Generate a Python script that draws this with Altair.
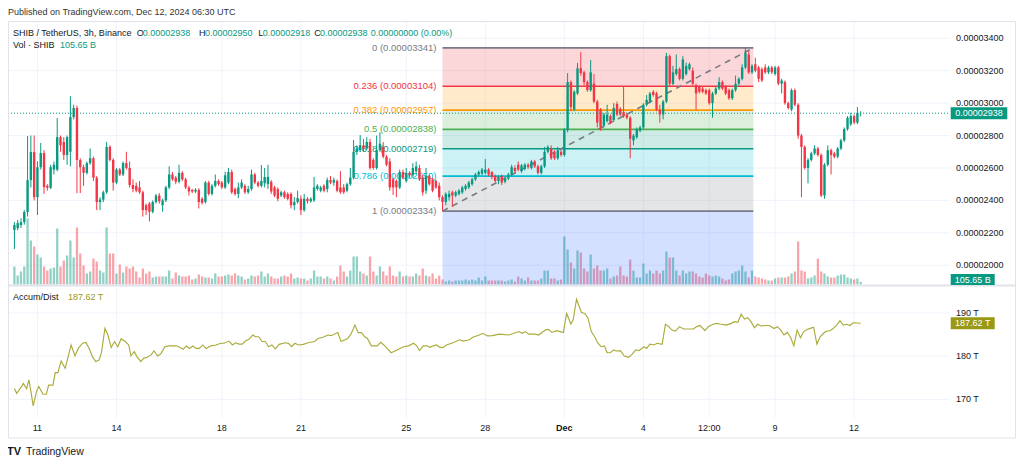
import altair as alt
import pandas as pd

# ---------------- data (prices in 1e-8 USDT) ----------------
opens = [2217,2229,2248,2266,2328,2525,2698,2420,2605,2692,
 2490,2478,2590,2590,2790,2760,2680,2700,2914,2970,
 2649,2605,2570,2630,2660,2540,2390,2405,2450,2730,
 2650,2510,2590,2560,2630,2600,2495,2490,2480,2450,
 2370,2380,2330,2390,2430,2370,2400,2480,2560,2540,
 2515,2570,2530,2480,2465,2455,2465,2410,2390,2510,
 2440,2490,2520,2510,2480,2510,2575,2470,2440,2480,
 2490,2450,2470,2560,2510,2490,2505,2500,2515,2480,
 2470,2430,2450,2440,2440,2370,2390,2410,2340,2410,
 2395,2400,2470,2460,2490,2470,2525,2510,2520,2480,
 2480,2460,2500,2540,2700,2710,2740,2720,2760,2650,
 2600,2710,2730,2670,2640,2530,2520,2480,2575,2520,
 2570,2555,2580,2600,2540,2460,2550,2530,2520,2490,
 2420,2390,2420,2450,2430,2440,2450,2470,2480,2500,
 2530,2560,2565,2570,2590,2575,2550,2520,2550,2515,
 2535,2560,2600,2620,2580,2595,2620,2600,2640,2610,
 2570,2610,2700,2720,2700,2660,2700,2680,2835,3130,
 2960,3060,3215,3190,3130,3080,3120,3010,2960,2860,
 2890,2920,2895,2995,2965,2945,2930,2910,2770,2790,
 2830,2850,2990,3010,3070,3060,2960,2930,3010,3290,
 3120,3180,3210,3150,3180,3210,3200,3110,3100,3090,
 3080,3080,3000,3060,3090,3130,3100,3080,3030,3080,
 3120,3150,3220,3300,3190,3240,3220,3210,3220,3190,
 3220,3180,3220,3120,3130,3000,2960,3080,2990,2800,
 2730,2600,2650,2690,2720,2680,2430,2620,2710,2690,
 2670,2720,2770,2840,2870,2920,2880,2938]
highs = [2266,2280,2290,2340,2797,2800,2800,2640,2754,2710,
 2500,2620,2640,2908,2800,2790,2800,3043,2990,2985,
 2660,2620,2640,2720,2670,2550,2420,2460,2760,2740,
 2660,2600,2600,2640,2700,2640,2530,2510,2520,2460,
 2380,2390,2400,2440,2445,2410,2490,2610,2575,2550,
 2620,2580,2540,2490,2470,2475,2475,2420,2520,2520,
 2500,2560,2530,2520,2577,2600,2590,2480,2510,2530,
 2500,2490,2590,2570,2520,2618,2600,2620,2525,2490,
 2480,2460,2460,2450,2450,2420,2460,2430,2440,2420,
 2420,2545,2500,2490,2500,2540,2550,2540,2530,2580,
 2500,2510,2600,2772,2740,2803,2780,2790,2780,2660,
 2800,2820,2760,2680,2660,2540,2530,2590,2590,2600,
 2580,2630,2640,2620,2560,2600,2560,2540,2530,2510,
 2430,2450,2460,2460,2460,2470,2490,2500,2520,2540,
 2570,2585,2600,2655,2600,2580,2560,2555,2560,2545,
 2570,2620,2615,2640,2625,2630,2630,2650,2650,2620,
 2620,2730,2740,2740,2710,2730,2710,2845,3185,3140,
 3080,3248,3315,3200,3140,3266,3180,3020,2970,2940,
 2990,2930,3000,3010,2975,3100,2940,2920,2810,2850,
 2860,3000,3050,3070,3080,3070,2990,3020,3310,3300,
 3230,3300,3220,3290,3250,3250,3220,3120,3110,3100,
 3090,3090,3070,3100,3160,3140,3110,3090,3090,3170,
 3160,3240,3341,3320,3240,3280,3230,3220,3240,3230,
 3230,3230,3230,3150,3140,3010,3090,3090,3000,2810,
 2740,2660,2700,2740,2730,2690,2630,2740,2720,2700,
 2730,2780,2850,2920,2940,2930,2976,2950]
lows = [2100,2215,2230,2250,2300,2480,2400,2310,2590,2440,
 2460,2470,2560,2580,2700,2650,2620,2610,2900,2445,
 2445,2490,2560,2620,2520,2340,2340,2390,2440,2640,
 2460,2500,2550,2550,2590,2480,2450,2450,2440,2300,
 2310,2270,2320,2380,2380,2330,2390,2470,2520,2500,
 2505,2520,2470,2430,2445,2445,2350,2375,2380,2430,
 2430,2480,2490,2470,2470,2500,2440,2430,2414,2470,
 2440,2440,2460,2500,2480,2480,2480,2470,2440,2420,
 2395,2420,2410,2400,2350,2340,2380,2310,2330,2380,
 2385,2390,2460,2450,2450,2450,2500,2490,2450,2440,
 2440,2450,2490,2530,2680,2700,2700,2710,2590,2590,
 2590,2700,2660,2610,2460,2434,2420,2470,2530,2510,
 2540,2540,2560,2520,2430,2440,2490,2450,2470,2400,
 2334,2370,2400,2360,2420,2430,2440,2460,2470,2490,
 2520,2550,2555,2560,2550,2530,2510,2500,2495,2505,
 2525,2550,2570,2580,2570,2585,2595,2590,2600,2560,
 2560,2600,2690,2650,2650,2650,2670,2670,2820,2950,
 2950,3050,3170,3110,3070,3070,3000,2850,2830,2850,
 2880,2870,2885,2920,2920,2910,2900,2660,2740,2780,
 2820,2840,2980,3000,3040,2950,2880,2900,3000,3100,
 3110,3170,3140,3140,3170,3200,3110,2960,3060,3060,
 3050,2990,2910,3050,3080,3080,3050,3020,3020,3070,
 3110,3140,3210,3180,3180,3190,3130,3130,3180,3180,
 3180,3170,3110,3060,2990,2960,2950,2980,2780,2420,
 2590,2505,2640,2680,2670,2420,2410,2610,2560,2660,
 2660,2710,2760,2830,2860,2870,2870,2918]
closes = [2248,2260,2266,2328,2525,2698,2420,2605,2692,2482,
 2478,2605,2620,2790,2740,2680,2790,2914,2970,2649,
 2605,2570,2630,2660,2540,2390,2405,2450,2730,2650,
 2510,2590,2560,2630,2600,2495,2470,2460,2450,2340,
 2340,2330,2390,2430,2395,2400,2480,2560,2530,2515,
 2570,2530,2480,2455,2455,2465,2390,2385,2510,2440,
 2490,2520,2500,2480,2555,2575,2450,2440,2480,2510,
 2450,2470,2560,2510,2490,2520,2545,2545,2455,2430,
 2410,2450,2420,2410,2370,2390,2415,2340,2410,2395,
 2410,2480,2490,2480,2460,2525,2510,2525,2460,2450,
 2450,2500,2540,2700,2720,2740,2720,2760,2600,2600,
 2710,2750,2670,2620,2480,2480,2480,2575,2540,2570,
 2555,2600,2610,2530,2450,2550,2500,2460,2480,2420,
 2390,2440,2440,2430,2450,2460,2480,2490,2510,2530,
 2560,2575,2590,2590,2560,2545,2520,2545,2510,2535,
 2560,2605,2580,2590,2615,2620,2605,2640,2610,2570,
 2610,2700,2730,2660,2660,2710,2680,2835,3130,2975,
 3070,3215,3185,3130,3080,3190,3010,2880,2850,2930,
 2930,2880,2970,2930,2930,2920,2910,2780,2800,2840,
 2850,2990,3020,3060,3050,2960,2930,3010,3290,3120,
 3190,3210,3150,3270,3230,3240,3120,3060,3070,3070,
 3060,3000,3060,3090,3130,3090,3060,3030,3080,3120,
 3150,3220,3310,3190,3230,3200,3150,3140,3190,3220,
 3190,3220,3120,3140,3000,2970,3080,2990,2800,2730,
 2600,2650,2690,2720,2680,2430,2620,2710,2680,2670,
 2720,2770,2840,2910,2920,2880,2940,2938]
# volume in billions SHIB
vol_b = [720,360,520,720,2640,1760,1520,1200,1080,720,560,640,680,2240,720,960,1160,1760,1080,2280,
 1240,760,440,520,1040,920,560,480,2280,1240,1240,440,800,480,720,640,720,520,280,640,
 440,520,280,320,320,320,320,560,240,480,360,320,320,360,200,240,400,320,280,280,
 240,440,320,320,
 360,400,360,440,360,320,200,240,360,320,360,520,320,440,320,240,240,320,360,320,
 440,240,280,240,240,160,240,560,320,320,240,320,240,160,320,760,520,320,560,1120,
 1120,520,440,360,1120,520,360,720,520,360,720,360,320,520,320,360,320,320,440,360,
 640,360,320,440,240,360,
 200,120,160,120,160,160,160,200,160,200,160,280,160,320,160,160,160,160,160,120,
 160,200,120,320,240,160,280,160,160,160,240,560,560,240,240,160,200,1920,1400,880,
 640,1360,1280,640,520,1200,640,760,560,560,640,240,320,360,720,360,320,1000,560,280,
 280,840,440,560,440,
 560,440,560,1320,1080,1080,560,360,560,440,520,520,440,320,280,440,360,320,360,320,
 240,160,200,440,520,560,760,520,280,560,320,280,240,200,160,160,240,280,280,280,
 320,440,520,1720,560,520,240,280,360,1040,520,440,320,280,280,360,400,400,280,240,
 200,240,105.65]
# Accumulation/Distribution (trillions), position in 3h bars
ad_i = [0,0.7,2.2,2.7,3.7,4.4,5.2,5.7,6.7,7.4,8.7,9.7,10.4,11.7,12.4,13.2,14.2,15.4,16.2,17.2,
 18.4,19.4,20.7,21.7,22.7,23.7,24.7,25.7,26.4,27.5,28.4,29.4,30.4,31.4,32.4,33.7,34.7,35.4,36.4,37.2,
 38.4,39.2,40.4,41.5,42.4,43.5,44.4,45.7,46.7,49.2,50.2,51.2,52.2,53.2,54.2,55.2,56.2,57.2,58.2,59.7,
 61.2,62.7,63.7,65.2,66.2,67.2,68.2,69.2,70.2,71.2,72.4,73.2,74.2,75.2,76.2,77.2,78.2,79.2,80.4,82.2,
 83.2,84.2,85.2,86.2,87.7,89.2,91.2,92.2,93.7,95.2,96.2,98.2,99.2,101.2,102.2,103.4,104.4,105.4,106.4,107.2,
 108.4,110.2,111.2,112.2,113.2,114.4,116.2,118.2,119.7,121.2,122.2,123.0,124.2,125.2,126.2,127.2,128.2,129.2,130.2,131.2,
 133.2,135.2,136.2,138.2,139.2,141.2,142.2,143.7,145.2,147.2,150.2,151.7,153.2,154.2,155.2,156.2,158.2,159.2,161.2,162.2,
 163.2,164.7,165.7,166.7,167.7,169.0,169.7,170.7,172.2,173.2,174.2,175.2,176.2,177.2,178.2,179.2,180.0,181.0,182.0,182.7,
 184.0,185.2,186.5,187.4,188.7,189.7,191.2,192.0,193.0,194.2,195.2,196.7,197.7,198.7,199.7,200.7,202.0,203.2,206.2,207.2,
 208.2,209.7,210.7,212.2,213.2,214.2,216.2,217.7,218.7,219.7,220.7,221.7,222.7,223.7,224.7,225.7,226.7,227.7,229.2,230.7,
 231.7,232.7,233.7,234.7,235.7,236.7,237.7,238.7,239.7,240.7,241.7,242.7,243.7,244.7,245.7,246.7,247.7,248.7,249.7,250.7,
 251.7,252.7,253.7,254.7,257]
ad_v = [172.5,171.4,173.0,173.7,172.5,174.5,171.0,168.5,171.8,173.0,171.2,171.2,173.3,173.3,176.2,176.2,178.9,177.2,179.5,182.6,
 180.1,181.8,183.0,183.2,181.8,179.9,178.75,179.1,180.7,186.45,184.9,182.0,183.4,182.2,184.0,183.4,182.6,180.1,181.05,179.9,
 178.75,179.5,179.75,180.3,181.2,180.05,180.5,182.2,182.4,182.4,182.05,181.6,182.35,181.8,182.35,181.8,181.8,182.6,181.8,182.4,
 182.6,183.0,183.0,183.5,182.6,183.1,182.8,182.8,183.5,183.9,184.9,184.5,184.5,183.4,183.4,182.2,182.6,181.7,182.75,183.1,
 183.0,182.2,183.0,182.6,182.75,183.1,183.4,184.1,184.4,184.9,184.75,185.5,183.4,184.1,185.1,187.2,185.45,185.45,184.5,184.1,
 182.4,182.4,183.2,182.6,181.8,180.8,181.45,182.2,182.4,183.0,182.4,181.3,182.4,182.4,182.05,182.4,182.6,182.05,182.05,182.6,
 183.1,183.8,183.5,183.8,184.4,184.9,185.3,184.7,184.75,185.1,184.9,185.3,185.7,185.3,185.7,185.1,185.1,184.9,186.05,186.2,
 185.5,185.9,185.7,185.5,189.9,187.45,188.5,193.2,190.1,189.9,188.8,185.7,184.5,183.0,182.2,182.4,180.8,180.8,181.45,181.2,
 181.3,180.05,179.75,180.3,181.45,181.3,182.2,181.8,182.8,182.6,183.0,182.75,187.4,186.85,186.05,185.8,186.85,186.3,186.3,186.85,
 187.1,185.9,186.85,187.4,187.6,187.45,187.2,187.6,188.0,187.85,189.7,188.6,188.9,188.0,186.6,187.4,187.0,187.1,187.1,186.4,
 186.85,186.05,184.9,185.5,184.4,182.4,186.05,184.3,185.7,186.2,186.45,186.7,182.8,184.5,185.3,185.8,185.9,186.45,187.2,188.2,
 187.2,187.4,187.1,187.75,187.62]

price_ticks = [2000, 2200, 2400, 2600, 2800, 3000, 3200, 3400]
ad_ticks = [170, 180, 190]
ad_tick_labels = ["170 T", "180 T", "190 T"]
xtick_i = [7, 31, 63, 87, 119, 143, 167, 191, 211, 231, 255]
xtick_lab = ["11", "14", "18", "21", "25", "28", "Dec", "4", "12:00", "9", "12"]

fib_ratio = ["0", "0.236", "0.382", "0.5", "0.618", "0.786", "1"]
fib_price = [3341, 3104, 2957, 2838, 2719, 2550, 2334]
fib_color = ["#787b86", "#f23645", "#ff9800", "#4caf50", "#089981", "#00bcd4", "#787b86"]
fib_ext_price = 1712          # 1.618 level (below pane)
fib_ext_color = "#2962ff"
fib_i0, fib_i1 = 130, 224.4   # anchor bars

last_price = 2938
last_vol = 105.65
last_ad = 187.62

# ---------------- frames ----------------
candles = pd.DataFrame({"i": list(range(len(closes))), "o": opens, "h": highs,
                        "l": lows, "c": closes, "v": vol_b})
ad = pd.DataFrame({"i": ad_i, "v": ad_v})
pt = pd.DataFrame({"p": price_ticks,
                   "t": [f"{p/1e8:.8f}" for p in price_ticks]})
at = pd.DataFrame({"v": ad_ticks, "t": ad_tick_labels})
xt = pd.DataFrame({"i": xtick_i, "t": xtick_lab})
lv = pd.DataFrame({"p": fib_price, "col": fib_color, "x0": fib_i0, "x1": fib_i1,
                   "t": [f"{r} ({p/1e8:.8f})" for r, p in zip(fib_ratio, fib_price)]})
bands = pd.DataFrame({"top": fib_price,
                      "bot": fib_price[1:] + [fib_ext_price],
                      "col": fib_color[1:] + [fib_ext_color],
                      "x0": fib_i0, "x1": fib_i1})
trend = pd.DataFrame({"x0": [fib_i0], "x1": [fib_i1],
                      "p0": [fib_price[-1]], "p1": [fib_price[0]]})
lastp = pd.DataFrame({"p": [last_price], "t": [f"{last_price/1e8:.8f}"]})
lasta = pd.DataFrame({"v": [last_ad], "t": [f"{last_ad:.2f} T"]})
blank = pd.DataFrame({"a": [0]})

FONT = "Liberation Sans"
UP, DN = "#089981", "#f23645"
ADC = "#999915"
ADLINE = "#abab3c"
GRID = "#f0f3fa"

xs = alt.Scale(domain=[0, 257], range=[1.4, 857.7], nice=False, zero=False)
ps = alt.Scale(domain=[1878, 3500], range=[277, 14.1], nice=False, zero=False, clamp=True)
vs = alt.Scale(domain=[0, 4000], range=[276.5, 176.5], nice=False, zero=True)
ads = alt.Scale(domain=[170, 190], range=[391.4, 305], nice=False, zero=False)


def X(f):
    return alt.X(f, type="quantitative", scale=xs, axis=None)


def YP(f):
    return alt.Y(f, type="quantitative", scale=ps, axis=None)


updown = alt.condition("datum.c >= datum.o", alt.value(UP), alt.value(DN))
volcol = alt.condition("datum.c >= datum.o", alt.value("rgba(8,153,129,0.45)"),
                       alt.value("rgba(242,54,69,0.45)"))


def label(text, x, y, color="#131722", size=9, align="left", weight="normal"):
    return alt.Chart(blank).mark_text(text=text, align=align, baseline="middle", font=FONT,
                                      fontSize=size, color=color, fontWeight=weight).encode(
        x=alt.value(x), y=alt.value(y))


layers = []
# grids
layers.append(alt.Chart(xt).mark_rule(color=GRID, strokeWidth=1).encode(
    x=X("i"), y=alt.value(14), y2=alt.value(410)))
layers.append(alt.Chart(pt).mark_rule(color=GRID, strokeWidth=1).encode(
    y=YP("p"), x=alt.value(0), x2=alt.value(942)))
layers.append(alt.Chart(at).mark_rule(color=GRID, strokeWidth=1).encode(
    y=alt.Y("v:Q", scale=ads, axis=None), x=alt.value(0), x2=alt.value(942)))
# volume
layers.append(alt.Chart(candles).mark_bar(size=2.3).encode(
    x=X("i"), y=alt.Y("v:Q", scale=vs, axis=None), color=volcol))
# fib fills / lines / labels / trend
layers.append(alt.Chart(bands).mark_rect(opacity=0.2).encode(
    x=X("x0"), x2="x1", y=YP("top"), y2="bot", color=alt.Color("col:N", scale=None)))
layers.append(alt.Chart(lv).mark_rule(strokeWidth=1.6).encode(
    x=X("x0"), x2="x1", y=YP("p"), color=alt.Color("col:N", scale=None)))
layers.append(alt.Chart(lv).mark_text(align="right", baseline="middle", dx=-6, font=FONT,
                                      fontSize=9.5).encode(
    x=X("x0"), y=YP("p"), text="t:N", color=alt.Color("col:N", scale=None)))
layers.append(alt.Chart(trend).mark_rule(strokeDash=[6, 5], strokeWidth=1.6, color="#787b86").encode(
    x=X("x0"), x2="x1", y=YP("p0"), y2="p1"))
# candles
layers.append(alt.Chart(candles).mark_rule(strokeWidth=1).encode(
    x=X("i"), y=YP("l"), y2="h", color=updown))
layers.append(alt.Chart(candles).mark_bar(size=2.4).encode(
    x=X("i"), y=YP("o"), y2="c", color=updown))
# last price dotted line
layers.append(alt.Chart(lastp).mark_rule(strokeDash=[1, 2], strokeWidth=1, color=UP).encode(
    y=YP("p"), x=alt.value(0), x2=alt.value(942)))
# A/D line
layers.append(alt.Chart(ad).mark_line(color=ADLINE, strokeWidth=1.15).encode(
    x=X("i"), y=alt.Y("v:Q", scale=ads, axis=None)))
# frame & separators
layers.append(alt.Chart(blank).mark_rect(fillOpacity=0, stroke="#e0e3eb", strokeWidth=1).encode(
    x=alt.value(0.5), x2=alt.value(1007.5), y=alt.value(13.5), y2=alt.value(430)))
layers.append(alt.Chart(blank).mark_rule(color="#e0e3eb", strokeWidth=2).encode(
    x=alt.value(0), x2=alt.value(1008), y=alt.value(277.5)))
# axis labels
layers.append(alt.Chart(pt).mark_text(align="left", baseline="middle", font=FONT, fontSize=9,
                                      color="#131722").encode(
    x=alt.value(948), y=YP("p"), text="t:N"))
layers.append(alt.Chart(at).mark_text(align="left", baseline="middle", font=FONT, fontSize=9,
                                      color="#131722").encode(
    x=alt.value(948), y=alt.Y("v:Q", scale=ads, axis=None), text="t:N"))
layers.append(alt.Chart(xt).transform_filter("datum.t != 'Dec'").mark_text(
    align="center", baseline="middle", font=FONT, fontSize=9, color="#131722").encode(
    x=X("i"), y=alt.value(419.7), text="t:N"))
layers.append(alt.Chart(xt).transform_filter("datum.t == 'Dec'").mark_text(
    align="center", baseline="middle", font=FONT, fontSize=9, color="#131722",
    fontWeight="bold").encode(x=X("i"), y=alt.value(419.7), text="t:N"))
# value boxes on the scale
layers.append(alt.Chart(lastp).mark_rule(strokeWidth=12, color=UP).encode(
    y=YP("p"), x=alt.value(942.7), x2=alt.value(999.3)))
layers.append(alt.Chart(lastp).mark_text(align="center", baseline="middle", font=FONT,
                                         fontSize=9, color="white").encode(
    y=YP("p"), x=alt.value(971), text="t:N"))
layers.append(alt.Chart(blank).mark_rule(strokeWidth=11, color=UP).encode(
    y=alt.value(271.5), x=alt.value(942.7), x2=alt.value(986.7)))
layers.append(label(f"{last_vol:.2f} B", 964.7, 271.5, color="white", align="center"))
layers.append(alt.Chart(lasta).mark_rule(strokeWidth=12, color=ADC).encode(
    y=alt.Y("v:Q", scale=ads, axis=None), x=alt.value(942.7), x2=alt.value(986.7)))
layers.append(alt.Chart(lasta).mark_text(align="center", baseline="middle", font=FONT,
                                         fontSize=9, color="white").encode(
    y=alt.Y("v:Q", scale=ads, axis=None), x=alt.value(964.7), text="t:N"))
# legends and captions
TEAL = "#089981"
p = lambda v: f"{v/1e8:.8f}"
layers += [
    label("Published on TradingView.com, Dec 12, 2024 06:30 UTC", 0, 4.3, color="#333333"),
    label("SHIB / TetherUS, 3h, Binance", 5, 25),
    label("O", 128.7, 25), label(p(opens[-1]), 134.7, 25, color=TEAL),
    label("H", 191, 25), label(p(highs[-1]), 197, 25, color=TEAL),
    label("L", 250.3, 25), label(p(lows[-1]), 254.7, 25, color=TEAL),
    label("C", 306.3, 25), label(p(closes[-1]), 312, 25, color=TEAL),
    label("0.00000000 (0.00%)", 362.7, 25, color=TEAL),
    label("Vol · SHIB", 5, 37), label(f"{last_vol:.2f} B", 52, 37, color=TEAL),
    label("Accum/Dist", 5, 288.7), label(f"{last_ad:.2f} T", 60, 288.7, color=ADC),
    label("TV", -1, 444, size=11, weight="bold"),
    label("TradingView", 18, 444, size=10.5),
]

chart = alt.layer(*layers).resolve_scale(y="independent").properties(
    width=1008, height=450, padding=0,
    autosize=alt.AutoSizeParams(type="none"),
    background="white",
).configure_view(strokeWidth=0)

chart.save("out.html", embed_options={"renderer": "svg", "actions": False})
